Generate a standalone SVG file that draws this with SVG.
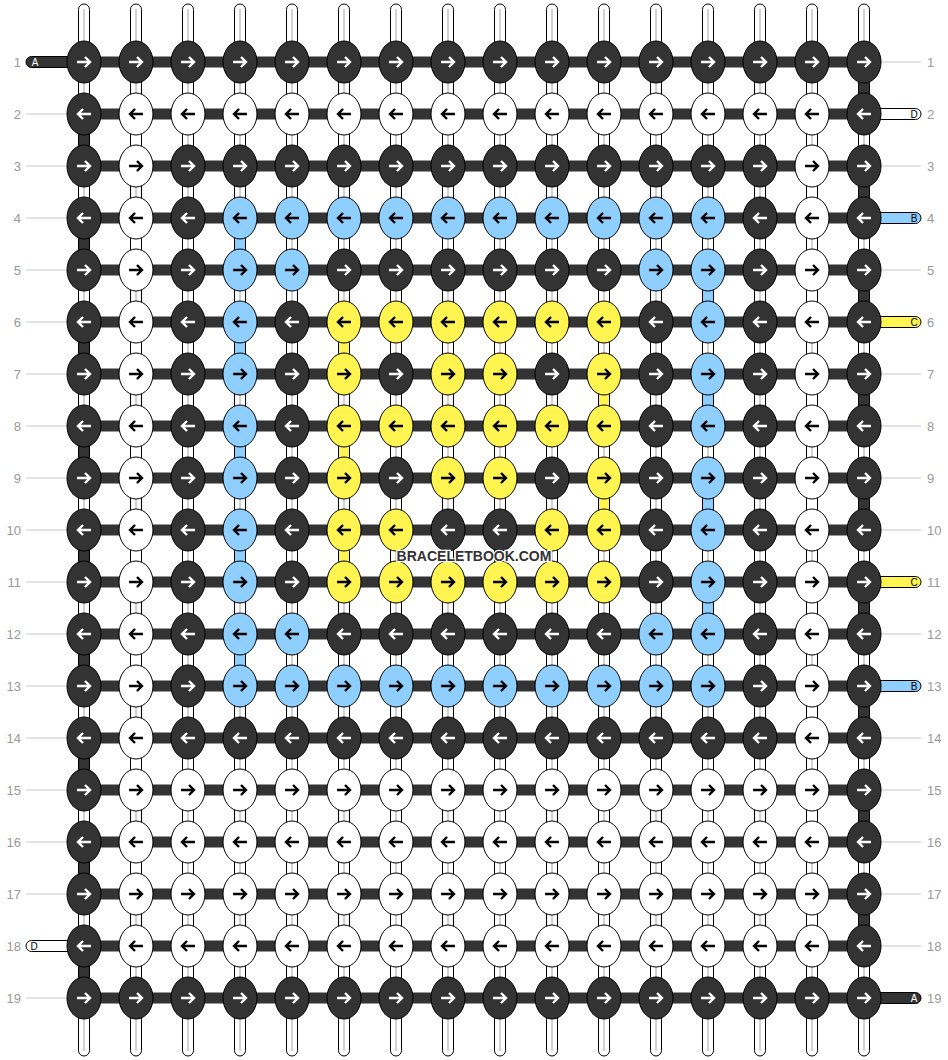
<svg xmlns="http://www.w3.org/2000/svg" width="948" height="1060" viewBox="0 0 948 1060">
<style>
.bg{fill:#fff}
.warp{fill:#fff;stroke:#000;stroke-width:1}
.wl{stroke:#d2d2d2;stroke-width:2}
.bar{fill:#333}
.tD{fill:#333;stroke:#000;stroke-width:1}
.tW{fill:#fff;stroke:#000;stroke-width:1}
.tB{fill:#8fcfff;stroke:#000;stroke-width:1}
.tY{fill:#fff450;stroke:#000;stroke-width:1}
.rl{stroke:#c8c8c8;stroke-width:1}
.rn{font-family:"Liberation Sans",Arial,sans-serif;font-size:13px;fill:#999}
.sl{font-family:"Liberation Sans",Arial,sans-serif;font-size:10px;text-anchor:middle}
.ar{fill:none;stroke-width:2.4}
.wm{font-family:"Liberation Sans",Arial,sans-serif;font-size:14px;font-weight:bold;fill:#333;stroke:#fff;stroke-width:2.5;paint-order:stroke;text-anchor:middle}
</style>
<defs>
<path id="aR" d="M-7,0H6M1,-5L6,0L1,5"/>
<path id="aL" d="M7,0H-6M-1,-5L-6,0L-1,5"/>
<g id="DR"><ellipse rx="17" ry="21" class="tD"/><use href="#aR" class="ar" stroke="#fff"/></g>
<g id="DL"><ellipse rx="17" ry="21" class="tD"/><use href="#aL" class="ar" stroke="#fff"/></g>
<g id="WR"><ellipse rx="17" ry="21" class="tW"/><use href="#aR" class="ar" stroke="#000"/></g>
<g id="WL"><ellipse rx="17" ry="21" class="tW"/><use href="#aL" class="ar" stroke="#000"/></g>
<g id="BR"><ellipse rx="17" ry="21" class="tB"/><use href="#aR" class="ar" stroke="#000"/></g>
<g id="BL"><ellipse rx="17" ry="21" class="tB"/><use href="#aL" class="ar" stroke="#000"/></g>
<g id="YR"><ellipse rx="17" ry="21" class="tY"/><use href="#aR" class="ar" stroke="#000"/></g>
<g id="YL"><ellipse rx="17" ry="21" class="tY"/><use href="#aL" class="ar" stroke="#000"/></g>
</defs>
<rect class="bg" x="0" y="0" width="948" height="1060"/>
<g id="connectors">
<g id="rowlines">
<line class="rl" x1="26" y1="114" x2="84" y2="114"/>
<line class="rl" x1="26" y1="166" x2="84" y2="166"/>
<line class="rl" x1="26" y1="218" x2="84" y2="218"/>
<line class="rl" x1="26" y1="270" x2="84" y2="270"/>
<line class="rl" x1="26" y1="322" x2="84" y2="322"/>
<line class="rl" x1="26" y1="374" x2="84" y2="374"/>
<line class="rl" x1="26" y1="426" x2="84" y2="426"/>
<line class="rl" x1="26" y1="478" x2="84" y2="478"/>
<line class="rl" x1="26" y1="530" x2="84" y2="530"/>
<line class="rl" x1="26" y1="582" x2="84" y2="582"/>
<line class="rl" x1="26" y1="634" x2="84" y2="634"/>
<line class="rl" x1="26" y1="686" x2="84" y2="686"/>
<line class="rl" x1="26" y1="738" x2="84" y2="738"/>
<line class="rl" x1="26" y1="790" x2="84" y2="790"/>
<line class="rl" x1="26" y1="842" x2="84" y2="842"/>
<line class="rl" x1="26" y1="894" x2="84" y2="894"/>
<line class="rl" x1="26" y1="998" x2="84" y2="998"/>
<line class="rl" x1="864" y1="62" x2="921" y2="62"/>
<line class="rl" x1="864" y1="166" x2="921" y2="166"/>
<line class="rl" x1="864" y1="270" x2="921" y2="270"/>
<line class="rl" x1="864" y1="374" x2="921" y2="374"/>
<line class="rl" x1="864" y1="426" x2="921" y2="426"/>
<line class="rl" x1="864" y1="478" x2="921" y2="478"/>
<line class="rl" x1="864" y1="530" x2="921" y2="530"/>
<line class="rl" x1="864" y1="634" x2="921" y2="634"/>
<line class="rl" x1="864" y1="738" x2="921" y2="738"/>
<line class="rl" x1="864" y1="790" x2="921" y2="790"/>
<line class="rl" x1="864" y1="842" x2="921" y2="842"/>
<line class="rl" x1="864" y1="894" x2="921" y2="894"/>
<line class="rl" x1="864" y1="946" x2="921" y2="946"/>
</g>
<g id="warps">
<rect class="warp" x="78.5" y="4" width="11" height="1052" rx="5.5"/><line class="wl" x1="84" y1="9" x2="84" y2="1051"/>
<rect class="warp" x="130.5" y="4" width="11" height="1052" rx="5.5"/><line class="wl" x1="136" y1="9" x2="136" y2="1051"/>
<rect class="warp" x="182.5" y="4" width="11" height="1052" rx="5.5"/><line class="wl" x1="188" y1="9" x2="188" y2="1051"/>
<rect class="warp" x="234.5" y="4" width="11" height="1052" rx="5.5"/><line class="wl" x1="240" y1="9" x2="240" y2="1051"/>
<rect class="warp" x="286.5" y="4" width="11" height="1052" rx="5.5"/><line class="wl" x1="292" y1="9" x2="292" y2="1051"/>
<rect class="warp" x="338.5" y="4" width="11" height="1052" rx="5.5"/><line class="wl" x1="344" y1="9" x2="344" y2="1051"/>
<rect class="warp" x="390.5" y="4" width="11" height="1052" rx="5.5"/><line class="wl" x1="396" y1="9" x2="396" y2="1051"/>
<rect class="warp" x="442.5" y="4" width="11" height="1052" rx="5.5"/><line class="wl" x1="448" y1="9" x2="448" y2="1051"/>
<rect class="warp" x="494.5" y="4" width="11" height="1052" rx="5.5"/><line class="wl" x1="500" y1="9" x2="500" y2="1051"/>
<rect class="warp" x="546.5" y="4" width="11" height="1052" rx="5.5"/><line class="wl" x1="552" y1="9" x2="552" y2="1051"/>
<rect class="warp" x="598.5" y="4" width="11" height="1052" rx="5.5"/><line class="wl" x1="604" y1="9" x2="604" y2="1051"/>
<rect class="warp" x="650.5" y="4" width="11" height="1052" rx="5.5"/><line class="wl" x1="656" y1="9" x2="656" y2="1051"/>
<rect class="warp" x="702.5" y="4" width="11" height="1052" rx="5.5"/><line class="wl" x1="708" y1="9" x2="708" y2="1051"/>
<rect class="warp" x="754.5" y="4" width="11" height="1052" rx="5.5"/><line class="wl" x1="760" y1="9" x2="760" y2="1051"/>
<rect class="warp" x="806.5" y="4" width="11" height="1052" rx="5.5"/><line class="wl" x1="812" y1="9" x2="812" y2="1051"/>
<rect class="warp" x="858.5" y="4" width="11" height="1052" rx="5.5"/><line class="wl" x1="864" y1="9" x2="864" y2="1051"/>
</g>
<g id="turns">
<rect class="tD" x="858.5" y="77" width="11" height="22"/>
<rect class="tD" x="858.5" y="181" width="11" height="22"/>
<rect class="tD" x="858.5" y="285" width="11" height="22"/>
<rect class="tD" x="858.5" y="389" width="11" height="22"/>
<rect class="tD" x="858.5" y="493" width="11" height="22"/>
<rect class="tD" x="858.5" y="597" width="11" height="22"/>
<rect class="tD" x="858.5" y="701" width="11" height="22"/>
<rect class="tD" x="858.5" y="805" width="11" height="22"/>
<rect class="tD" x="858.5" y="909" width="11" height="22"/>
<rect class="tD" x="78.5" y="129" width="11" height="22"/>
<rect class="tD" x="78.5" y="233" width="11" height="22"/>
<rect class="tD" x="78.5" y="337" width="11" height="22"/>
<rect class="tD" x="78.5" y="441" width="11" height="22"/>
<rect class="tD" x="78.5" y="545" width="11" height="22"/>
<rect class="tD" x="78.5" y="649" width="11" height="22"/>
<rect class="tD" x="78.5" y="753" width="11" height="22"/>
<rect class="tD" x="78.5" y="857" width="11" height="22"/>
<rect class="tD" x="78.5" y="961" width="11" height="22"/>
<rect class="tW" x="130.5" y="129" width="11" height="22"/>
<rect class="tW" x="130.5" y="233" width="11" height="22"/>
<rect class="tW" x="130.5" y="337" width="11" height="22"/>
<rect class="tW" x="130.5" y="441" width="11" height="22"/>
<rect class="tW" x="130.5" y="545" width="11" height="22"/>
<rect class="tW" x="130.5" y="649" width="11" height="22"/>
<rect class="tW" x="130.5" y="753" width="11" height="22"/>
<rect class="tW" x="130.5" y="857" width="11" height="22"/>
<rect class="tW" x="806.5" y="181" width="11" height="22"/>
<rect class="tW" x="806.5" y="285" width="11" height="22"/>
<rect class="tW" x="806.5" y="389" width="11" height="22"/>
<rect class="tW" x="806.5" y="493" width="11" height="22"/>
<rect class="tW" x="806.5" y="597" width="11" height="22"/>
<rect class="tW" x="806.5" y="701" width="11" height="22"/>
<rect class="tW" x="806.5" y="805" width="11" height="22"/>
<rect class="tW" x="806.5" y="909" width="11" height="22"/>
<rect class="tB" x="234.5" y="233" width="11" height="22"/>
<rect class="tB" x="234.5" y="337" width="11" height="22"/>
<rect class="tB" x="234.5" y="441" width="11" height="22"/>
<rect class="tB" x="234.5" y="545" width="11" height="22"/>
<rect class="tB" x="234.5" y="649" width="11" height="22"/>
<rect class="tB" x="702.5" y="285" width="11" height="22"/>
<rect class="tB" x="702.5" y="389" width="11" height="22"/>
<rect class="tB" x="702.5" y="493" width="11" height="22"/>
<rect class="tB" x="702.5" y="597" width="11" height="22"/>
<rect class="tY" x="338.5" y="337" width="11" height="22"/>
<rect class="tY" x="338.5" y="441" width="11" height="22"/>
<rect class="tY" x="338.5" y="545" width="11" height="22"/>
<rect class="tY" x="598.5" y="389" width="11" height="22"/>
<rect class="tY" x="598.5" y="493" width="11" height="22"/>
</g>
<g id="bars">
<rect class="bar" x="84" y="56.5" width="780" height="11"/>
<rect class="bar" x="84" y="108.5" width="780" height="11"/>
<rect class="bar" x="84" y="160.5" width="780" height="11"/>
<rect class="bar" x="84" y="212.5" width="780" height="11"/>
<rect class="bar" x="84" y="264.5" width="780" height="11"/>
<rect class="bar" x="84" y="316.5" width="780" height="11"/>
<rect class="bar" x="84" y="368.5" width="780" height="11"/>
<rect class="bar" x="84" y="420.5" width="780" height="11"/>
<rect class="bar" x="84" y="472.5" width="780" height="11"/>
<rect class="bar" x="84" y="524.5" width="780" height="11"/>
<rect class="bar" x="84" y="576.5" width="780" height="11"/>
<rect class="bar" x="84" y="628.5" width="780" height="11"/>
<rect class="bar" x="84" y="680.5" width="780" height="11"/>
<rect class="bar" x="84" y="732.5" width="780" height="11"/>
<rect class="bar" x="84" y="784.5" width="780" height="11"/>
<rect class="bar" x="84" y="836.5" width="780" height="11"/>
<rect class="bar" x="84" y="888.5" width="780" height="11"/>
<rect class="bar" x="84" y="940.5" width="780" height="11"/>
<rect class="bar" x="84" y="992.5" width="780" height="11"/>
</g>
<g id="stubs">
<rect class="tD" x="26" y="56.5" width="50" height="11" rx="5.5"/>
<rect class="tW" x="26" y="940.5" width="50" height="11" rx="5.5"/>
<rect class="tW" x="872" y="108.5" width="49" height="11" rx="5.5"/>
<rect class="tB" x="872" y="212.5" width="49" height="11" rx="5.5"/>
<rect class="tY" x="872" y="316.5" width="49" height="11" rx="5.5"/>
<rect class="tY" x="872" y="576.5" width="49" height="11" rx="5.5"/>
<rect class="tB" x="872" y="680.5" width="49" height="11" rx="5.5"/>
<rect class="tD" x="872" y="992.5" width="49" height="11" rx="5.5"/>
<text class="sl" x="35" y="65.6" fill="#fff">A</text>
<text class="sl" x="34" y="949.6" fill="#000">D</text>
<text class="sl" x="914" y="117.6" fill="#000">D</text>
<text class="sl" x="914" y="221.6" fill="#000">B</text>
<text class="sl" x="914" y="325.6" fill="#000">C</text>
<text class="sl" x="914" y="585.6" fill="#000">C</text>
<text class="sl" x="914" y="689.6" fill="#000">B</text>
<text class="sl" x="914" y="1001.6" fill="#fff">A</text>
</g>
</g>
<g id="rownumbers" class="rn">
<text x="21" y="66.7" text-anchor="end">1</text><text x="927" y="66.7">1</text>
<text x="21" y="118.7" text-anchor="end">2</text><text x="927" y="118.7">2</text>
<text x="21" y="170.7" text-anchor="end">3</text><text x="927" y="170.7">3</text>
<text x="21" y="222.7" text-anchor="end">4</text><text x="927" y="222.7">4</text>
<text x="21" y="274.7" text-anchor="end">5</text><text x="927" y="274.7">5</text>
<text x="21" y="326.7" text-anchor="end">6</text><text x="927" y="326.7">6</text>
<text x="21" y="378.7" text-anchor="end">7</text><text x="927" y="378.7">7</text>
<text x="21" y="430.7" text-anchor="end">8</text><text x="927" y="430.7">8</text>
<text x="21" y="482.7" text-anchor="end">9</text><text x="927" y="482.7">9</text>
<text x="21" y="534.7" text-anchor="end">10</text><text x="927" y="534.7">10</text>
<text x="21" y="586.7" text-anchor="end">11</text><text x="927" y="586.7">11</text>
<text x="21" y="638.7" text-anchor="end">12</text><text x="927" y="638.7">12</text>
<text x="21" y="690.7" text-anchor="end">13</text><text x="927" y="690.7">13</text>
<text x="21" y="742.7" text-anchor="end">14</text><text x="927" y="742.7">14</text>
<text x="21" y="794.7" text-anchor="end">15</text><text x="927" y="794.7">15</text>
<text x="21" y="846.7" text-anchor="end">16</text><text x="927" y="846.7">16</text>
<text x="21" y="898.7" text-anchor="end">17</text><text x="927" y="898.7">17</text>
<text x="21" y="950.7" text-anchor="end">18</text><text x="927" y="950.7">18</text>
<text x="21" y="1002.7" text-anchor="end">19</text><text x="927" y="1002.7">19</text>
</g>
<g id="knots">
<g id="k1-1"><use href="#DR" x="84" y="62"/></g><g id="k1-2"><use href="#DR" x="136" y="62"/></g><g id="k1-3"><use href="#DR" x="188" y="62"/></g><g id="k1-4"><use href="#DR" x="240" y="62"/></g><g id="k1-5"><use href="#DR" x="292" y="62"/></g><g id="k1-6"><use href="#DR" x="344" y="62"/></g><g id="k1-7"><use href="#DR" x="396" y="62"/></g><g id="k1-8"><use href="#DR" x="448" y="62"/></g><g id="k1-9"><use href="#DR" x="500" y="62"/></g><g id="k1-10"><use href="#DR" x="552" y="62"/></g><g id="k1-11"><use href="#DR" x="604" y="62"/></g><g id="k1-12"><use href="#DR" x="656" y="62"/></g><g id="k1-13"><use href="#DR" x="708" y="62"/></g><g id="k1-14"><use href="#DR" x="760" y="62"/></g><g id="k1-15"><use href="#DR" x="812" y="62"/></g><g id="k1-16"><use href="#DR" x="864" y="62"/></g>
<g id="k2-1"><use href="#DL" x="84" y="114"/></g><g id="k2-2"><use href="#WL" x="136" y="114"/></g><g id="k2-3"><use href="#WL" x="188" y="114"/></g><g id="k2-4"><use href="#WL" x="240" y="114"/></g><g id="k2-5"><use href="#WL" x="292" y="114"/></g><g id="k2-6"><use href="#WL" x="344" y="114"/></g><g id="k2-7"><use href="#WL" x="396" y="114"/></g><g id="k2-8"><use href="#WL" x="448" y="114"/></g><g id="k2-9"><use href="#WL" x="500" y="114"/></g><g id="k2-10"><use href="#WL" x="552" y="114"/></g><g id="k2-11"><use href="#WL" x="604" y="114"/></g><g id="k2-12"><use href="#WL" x="656" y="114"/></g><g id="k2-13"><use href="#WL" x="708" y="114"/></g><g id="k2-14"><use href="#WL" x="760" y="114"/></g><g id="k2-15"><use href="#WL" x="812" y="114"/></g><g id="k2-16"><use href="#DL" x="864" y="114"/></g>
<g id="k3-1"><use href="#DR" x="84" y="166"/></g><g id="k3-2"><use href="#WR" x="136" y="166"/></g><g id="k3-3"><use href="#DR" x="188" y="166"/></g><g id="k3-4"><use href="#DR" x="240" y="166"/></g><g id="k3-5"><use href="#DR" x="292" y="166"/></g><g id="k3-6"><use href="#DR" x="344" y="166"/></g><g id="k3-7"><use href="#DR" x="396" y="166"/></g><g id="k3-8"><use href="#DR" x="448" y="166"/></g><g id="k3-9"><use href="#DR" x="500" y="166"/></g><g id="k3-10"><use href="#DR" x="552" y="166"/></g><g id="k3-11"><use href="#DR" x="604" y="166"/></g><g id="k3-12"><use href="#DR" x="656" y="166"/></g><g id="k3-13"><use href="#DR" x="708" y="166"/></g><g id="k3-14"><use href="#DR" x="760" y="166"/></g><g id="k3-15"><use href="#WR" x="812" y="166"/></g><g id="k3-16"><use href="#DR" x="864" y="166"/></g>
<g id="k4-1"><use href="#DL" x="84" y="218"/></g><g id="k4-2"><use href="#WL" x="136" y="218"/></g><g id="k4-3"><use href="#DL" x="188" y="218"/></g><g id="k4-4"><use href="#BL" x="240" y="218"/></g><g id="k4-5"><use href="#BL" x="292" y="218"/></g><g id="k4-6"><use href="#BL" x="344" y="218"/></g><g id="k4-7"><use href="#BL" x="396" y="218"/></g><g id="k4-8"><use href="#BL" x="448" y="218"/></g><g id="k4-9"><use href="#BL" x="500" y="218"/></g><g id="k4-10"><use href="#BL" x="552" y="218"/></g><g id="k4-11"><use href="#BL" x="604" y="218"/></g><g id="k4-12"><use href="#BL" x="656" y="218"/></g><g id="k4-13"><use href="#BL" x="708" y="218"/></g><g id="k4-14"><use href="#DL" x="760" y="218"/></g><g id="k4-15"><use href="#WL" x="812" y="218"/></g><g id="k4-16"><use href="#DL" x="864" y="218"/></g>
<g id="k5-1"><use href="#DR" x="84" y="270"/></g><g id="k5-2"><use href="#WR" x="136" y="270"/></g><g id="k5-3"><use href="#DR" x="188" y="270"/></g><g id="k5-4"><use href="#BR" x="240" y="270"/></g><g id="k5-5"><use href="#BR" x="292" y="270"/></g><g id="k5-6"><use href="#DR" x="344" y="270"/></g><g id="k5-7"><use href="#DR" x="396" y="270"/></g><g id="k5-8"><use href="#DR" x="448" y="270"/></g><g id="k5-9"><use href="#DR" x="500" y="270"/></g><g id="k5-10"><use href="#DR" x="552" y="270"/></g><g id="k5-11"><use href="#DR" x="604" y="270"/></g><g id="k5-12"><use href="#BR" x="656" y="270"/></g><g id="k5-13"><use href="#BR" x="708" y="270"/></g><g id="k5-14"><use href="#DR" x="760" y="270"/></g><g id="k5-15"><use href="#WR" x="812" y="270"/></g><g id="k5-16"><use href="#DR" x="864" y="270"/></g>
<g id="k6-1"><use href="#DL" x="84" y="322"/></g><g id="k6-2"><use href="#WL" x="136" y="322"/></g><g id="k6-3"><use href="#DL" x="188" y="322"/></g><g id="k6-4"><use href="#BL" x="240" y="322"/></g><g id="k6-5"><use href="#DL" x="292" y="322"/></g><g id="k6-6"><use href="#YL" x="344" y="322"/></g><g id="k6-7"><use href="#YL" x="396" y="322"/></g><g id="k6-8"><use href="#YL" x="448" y="322"/></g><g id="k6-9"><use href="#YL" x="500" y="322"/></g><g id="k6-10"><use href="#YL" x="552" y="322"/></g><g id="k6-11"><use href="#YL" x="604" y="322"/></g><g id="k6-12"><use href="#DL" x="656" y="322"/></g><g id="k6-13"><use href="#BL" x="708" y="322"/></g><g id="k6-14"><use href="#DL" x="760" y="322"/></g><g id="k6-15"><use href="#WL" x="812" y="322"/></g><g id="k6-16"><use href="#DL" x="864" y="322"/></g>
<g id="k7-1"><use href="#DR" x="84" y="374"/></g><g id="k7-2"><use href="#WR" x="136" y="374"/></g><g id="k7-3"><use href="#DR" x="188" y="374"/></g><g id="k7-4"><use href="#BR" x="240" y="374"/></g><g id="k7-5"><use href="#DR" x="292" y="374"/></g><g id="k7-6"><use href="#YR" x="344" y="374"/></g><g id="k7-7"><use href="#DR" x="396" y="374"/></g><g id="k7-8"><use href="#YR" x="448" y="374"/></g><g id="k7-9"><use href="#YR" x="500" y="374"/></g><g id="k7-10"><use href="#DR" x="552" y="374"/></g><g id="k7-11"><use href="#YR" x="604" y="374"/></g><g id="k7-12"><use href="#DR" x="656" y="374"/></g><g id="k7-13"><use href="#BR" x="708" y="374"/></g><g id="k7-14"><use href="#DR" x="760" y="374"/></g><g id="k7-15"><use href="#WR" x="812" y="374"/></g><g id="k7-16"><use href="#DR" x="864" y="374"/></g>
<g id="k8-1"><use href="#DL" x="84" y="426"/></g><g id="k8-2"><use href="#WL" x="136" y="426"/></g><g id="k8-3"><use href="#DL" x="188" y="426"/></g><g id="k8-4"><use href="#BL" x="240" y="426"/></g><g id="k8-5"><use href="#DL" x="292" y="426"/></g><g id="k8-6"><use href="#YL" x="344" y="426"/></g><g id="k8-7"><use href="#YL" x="396" y="426"/></g><g id="k8-8"><use href="#YL" x="448" y="426"/></g><g id="k8-9"><use href="#YL" x="500" y="426"/></g><g id="k8-10"><use href="#YL" x="552" y="426"/></g><g id="k8-11"><use href="#YL" x="604" y="426"/></g><g id="k8-12"><use href="#DL" x="656" y="426"/></g><g id="k8-13"><use href="#BL" x="708" y="426"/></g><g id="k8-14"><use href="#DL" x="760" y="426"/></g><g id="k8-15"><use href="#WL" x="812" y="426"/></g><g id="k8-16"><use href="#DL" x="864" y="426"/></g>
<g id="k9-1"><use href="#DR" x="84" y="478"/></g><g id="k9-2"><use href="#WR" x="136" y="478"/></g><g id="k9-3"><use href="#DR" x="188" y="478"/></g><g id="k9-4"><use href="#BR" x="240" y="478"/></g><g id="k9-5"><use href="#DR" x="292" y="478"/></g><g id="k9-6"><use href="#YR" x="344" y="478"/></g><g id="k9-7"><use href="#DR" x="396" y="478"/></g><g id="k9-8"><use href="#YR" x="448" y="478"/></g><g id="k9-9"><use href="#YR" x="500" y="478"/></g><g id="k9-10"><use href="#DR" x="552" y="478"/></g><g id="k9-11"><use href="#YR" x="604" y="478"/></g><g id="k9-12"><use href="#DR" x="656" y="478"/></g><g id="k9-13"><use href="#BR" x="708" y="478"/></g><g id="k9-14"><use href="#DR" x="760" y="478"/></g><g id="k9-15"><use href="#WR" x="812" y="478"/></g><g id="k9-16"><use href="#DR" x="864" y="478"/></g>
<g id="k10-1"><use href="#DL" x="84" y="530"/></g><g id="k10-2"><use href="#WL" x="136" y="530"/></g><g id="k10-3"><use href="#DL" x="188" y="530"/></g><g id="k10-4"><use href="#BL" x="240" y="530"/></g><g id="k10-5"><use href="#DL" x="292" y="530"/></g><g id="k10-6"><use href="#YL" x="344" y="530"/></g><g id="k10-7"><use href="#YL" x="396" y="530"/></g><g id="k10-8"><use href="#DL" x="448" y="530"/></g><g id="k10-9"><use href="#DL" x="500" y="530"/></g><g id="k10-10"><use href="#YL" x="552" y="530"/></g><g id="k10-11"><use href="#YL" x="604" y="530"/></g><g id="k10-12"><use href="#DL" x="656" y="530"/></g><g id="k10-13"><use href="#BL" x="708" y="530"/></g><g id="k10-14"><use href="#DL" x="760" y="530"/></g><g id="k10-15"><use href="#WL" x="812" y="530"/></g><g id="k10-16"><use href="#DL" x="864" y="530"/></g>
<g id="k11-1"><use href="#DR" x="84" y="582"/></g><g id="k11-2"><use href="#WR" x="136" y="582"/></g><g id="k11-3"><use href="#DR" x="188" y="582"/></g><g id="k11-4"><use href="#BR" x="240" y="582"/></g><g id="k11-5"><use href="#DR" x="292" y="582"/></g><g id="k11-6"><use href="#YR" x="344" y="582"/></g><g id="k11-7"><use href="#YR" x="396" y="582"/></g><g id="k11-8"><use href="#YR" x="448" y="582"/></g><g id="k11-9"><use href="#YR" x="500" y="582"/></g><g id="k11-10"><use href="#YR" x="552" y="582"/></g><g id="k11-11"><use href="#YR" x="604" y="582"/></g><g id="k11-12"><use href="#DR" x="656" y="582"/></g><g id="k11-13"><use href="#BR" x="708" y="582"/></g><g id="k11-14"><use href="#DR" x="760" y="582"/></g><g id="k11-15"><use href="#WR" x="812" y="582"/></g><g id="k11-16"><use href="#DR" x="864" y="582"/></g>
<g id="k12-1"><use href="#DL" x="84" y="634"/></g><g id="k12-2"><use href="#WL" x="136" y="634"/></g><g id="k12-3"><use href="#DL" x="188" y="634"/></g><g id="k12-4"><use href="#BL" x="240" y="634"/></g><g id="k12-5"><use href="#BL" x="292" y="634"/></g><g id="k12-6"><use href="#DL" x="344" y="634"/></g><g id="k12-7"><use href="#DL" x="396" y="634"/></g><g id="k12-8"><use href="#DL" x="448" y="634"/></g><g id="k12-9"><use href="#DL" x="500" y="634"/></g><g id="k12-10"><use href="#DL" x="552" y="634"/></g><g id="k12-11"><use href="#DL" x="604" y="634"/></g><g id="k12-12"><use href="#BL" x="656" y="634"/></g><g id="k12-13"><use href="#BL" x="708" y="634"/></g><g id="k12-14"><use href="#DL" x="760" y="634"/></g><g id="k12-15"><use href="#WL" x="812" y="634"/></g><g id="k12-16"><use href="#DL" x="864" y="634"/></g>
<g id="k13-1"><use href="#DR" x="84" y="686"/></g><g id="k13-2"><use href="#WR" x="136" y="686"/></g><g id="k13-3"><use href="#DR" x="188" y="686"/></g><g id="k13-4"><use href="#BR" x="240" y="686"/></g><g id="k13-5"><use href="#BR" x="292" y="686"/></g><g id="k13-6"><use href="#BR" x="344" y="686"/></g><g id="k13-7"><use href="#BR" x="396" y="686"/></g><g id="k13-8"><use href="#BR" x="448" y="686"/></g><g id="k13-9"><use href="#BR" x="500" y="686"/></g><g id="k13-10"><use href="#BR" x="552" y="686"/></g><g id="k13-11"><use href="#BR" x="604" y="686"/></g><g id="k13-12"><use href="#BR" x="656" y="686"/></g><g id="k13-13"><use href="#BR" x="708" y="686"/></g><g id="k13-14"><use href="#DR" x="760" y="686"/></g><g id="k13-15"><use href="#WR" x="812" y="686"/></g><g id="k13-16"><use href="#DR" x="864" y="686"/></g>
<g id="k14-1"><use href="#DL" x="84" y="738"/></g><g id="k14-2"><use href="#WL" x="136" y="738"/></g><g id="k14-3"><use href="#DL" x="188" y="738"/></g><g id="k14-4"><use href="#DL" x="240" y="738"/></g><g id="k14-5"><use href="#DL" x="292" y="738"/></g><g id="k14-6"><use href="#DL" x="344" y="738"/></g><g id="k14-7"><use href="#DL" x="396" y="738"/></g><g id="k14-8"><use href="#DL" x="448" y="738"/></g><g id="k14-9"><use href="#DL" x="500" y="738"/></g><g id="k14-10"><use href="#DL" x="552" y="738"/></g><g id="k14-11"><use href="#DL" x="604" y="738"/></g><g id="k14-12"><use href="#DL" x="656" y="738"/></g><g id="k14-13"><use href="#DL" x="708" y="738"/></g><g id="k14-14"><use href="#DL" x="760" y="738"/></g><g id="k14-15"><use href="#WL" x="812" y="738"/></g><g id="k14-16"><use href="#DL" x="864" y="738"/></g>
<g id="k15-1"><use href="#DR" x="84" y="790"/></g><g id="k15-2"><use href="#WR" x="136" y="790"/></g><g id="k15-3"><use href="#WR" x="188" y="790"/></g><g id="k15-4"><use href="#WR" x="240" y="790"/></g><g id="k15-5"><use href="#WR" x="292" y="790"/></g><g id="k15-6"><use href="#WR" x="344" y="790"/></g><g id="k15-7"><use href="#WR" x="396" y="790"/></g><g id="k15-8"><use href="#WR" x="448" y="790"/></g><g id="k15-9"><use href="#WR" x="500" y="790"/></g><g id="k15-10"><use href="#WR" x="552" y="790"/></g><g id="k15-11"><use href="#WR" x="604" y="790"/></g><g id="k15-12"><use href="#WR" x="656" y="790"/></g><g id="k15-13"><use href="#WR" x="708" y="790"/></g><g id="k15-14"><use href="#WR" x="760" y="790"/></g><g id="k15-15"><use href="#WR" x="812" y="790"/></g><g id="k15-16"><use href="#DR" x="864" y="790"/></g>
<g id="k16-1"><use href="#DL" x="84" y="842"/></g><g id="k16-2"><use href="#WL" x="136" y="842"/></g><g id="k16-3"><use href="#WL" x="188" y="842"/></g><g id="k16-4"><use href="#WL" x="240" y="842"/></g><g id="k16-5"><use href="#WL" x="292" y="842"/></g><g id="k16-6"><use href="#WL" x="344" y="842"/></g><g id="k16-7"><use href="#WL" x="396" y="842"/></g><g id="k16-8"><use href="#WL" x="448" y="842"/></g><g id="k16-9"><use href="#WL" x="500" y="842"/></g><g id="k16-10"><use href="#WL" x="552" y="842"/></g><g id="k16-11"><use href="#WL" x="604" y="842"/></g><g id="k16-12"><use href="#WL" x="656" y="842"/></g><g id="k16-13"><use href="#WL" x="708" y="842"/></g><g id="k16-14"><use href="#WL" x="760" y="842"/></g><g id="k16-15"><use href="#WL" x="812" y="842"/></g><g id="k16-16"><use href="#DL" x="864" y="842"/></g>
<g id="k17-1"><use href="#DR" x="84" y="894"/></g><g id="k17-2"><use href="#WR" x="136" y="894"/></g><g id="k17-3"><use href="#WR" x="188" y="894"/></g><g id="k17-4"><use href="#WR" x="240" y="894"/></g><g id="k17-5"><use href="#WR" x="292" y="894"/></g><g id="k17-6"><use href="#WR" x="344" y="894"/></g><g id="k17-7"><use href="#WR" x="396" y="894"/></g><g id="k17-8"><use href="#WR" x="448" y="894"/></g><g id="k17-9"><use href="#WR" x="500" y="894"/></g><g id="k17-10"><use href="#WR" x="552" y="894"/></g><g id="k17-11"><use href="#WR" x="604" y="894"/></g><g id="k17-12"><use href="#WR" x="656" y="894"/></g><g id="k17-13"><use href="#WR" x="708" y="894"/></g><g id="k17-14"><use href="#WR" x="760" y="894"/></g><g id="k17-15"><use href="#WR" x="812" y="894"/></g><g id="k17-16"><use href="#DR" x="864" y="894"/></g>
<g id="k18-1"><use href="#DL" x="84" y="946"/></g><g id="k18-2"><use href="#WL" x="136" y="946"/></g><g id="k18-3"><use href="#WL" x="188" y="946"/></g><g id="k18-4"><use href="#WL" x="240" y="946"/></g><g id="k18-5"><use href="#WL" x="292" y="946"/></g><g id="k18-6"><use href="#WL" x="344" y="946"/></g><g id="k18-7"><use href="#WL" x="396" y="946"/></g><g id="k18-8"><use href="#WL" x="448" y="946"/></g><g id="k18-9"><use href="#WL" x="500" y="946"/></g><g id="k18-10"><use href="#WL" x="552" y="946"/></g><g id="k18-11"><use href="#WL" x="604" y="946"/></g><g id="k18-12"><use href="#WL" x="656" y="946"/></g><g id="k18-13"><use href="#WL" x="708" y="946"/></g><g id="k18-14"><use href="#WL" x="760" y="946"/></g><g id="k18-15"><use href="#WL" x="812" y="946"/></g><g id="k18-16"><use href="#DL" x="864" y="946"/></g>
<g id="k19-1"><use href="#DR" x="84" y="998"/></g><g id="k19-2"><use href="#DR" x="136" y="998"/></g><g id="k19-3"><use href="#DR" x="188" y="998"/></g><g id="k19-4"><use href="#DR" x="240" y="998"/></g><g id="k19-5"><use href="#DR" x="292" y="998"/></g><g id="k19-6"><use href="#DR" x="344" y="998"/></g><g id="k19-7"><use href="#DR" x="396" y="998"/></g><g id="k19-8"><use href="#DR" x="448" y="998"/></g><g id="k19-9"><use href="#DR" x="500" y="998"/></g><g id="k19-10"><use href="#DR" x="552" y="998"/></g><g id="k19-11"><use href="#DR" x="604" y="998"/></g><g id="k19-12"><use href="#DR" x="656" y="998"/></g><g id="k19-13"><use href="#DR" x="708" y="998"/></g><g id="k19-14"><use href="#DR" x="760" y="998"/></g><g id="k19-15"><use href="#DR" x="812" y="998"/></g><g id="k19-16"><use href="#DR" x="864" y="998"/></g>
</g>
<text class="wm" x="474" y="560.5">BRACELETBOOK.COM</text>
</svg>
